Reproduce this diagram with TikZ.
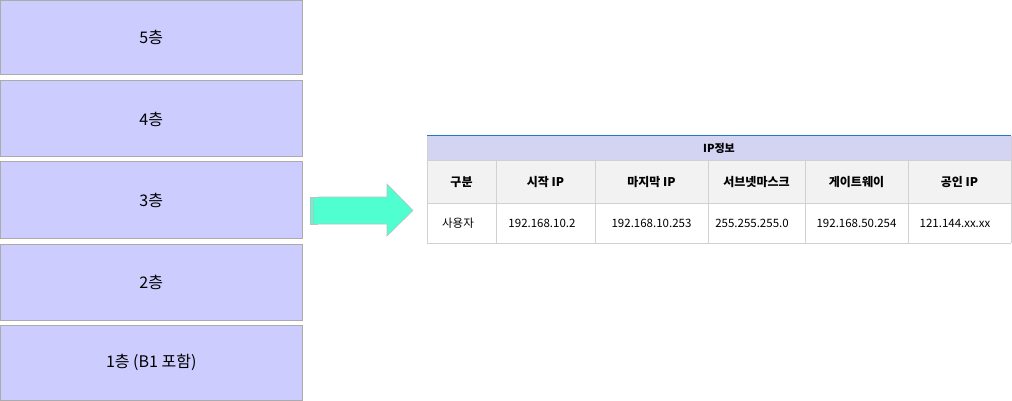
\documentclass[tikz,border=0pt]{standalone}
\usepackage{fontspec}
\setmainfont{Noto Sans CJK KR}
\begin{document}
\begin{tikzpicture}[x=1pt,y=-1pt,
  floorbox/.style={draw=black!33, fill=floorfill, line width=1pt},
  cell/.style={draw=black!18, line width=1pt},
  lbl/.style={font=\fontsize{16}{18}\selectfont},
  th/.style={font=\fontsize{12}{14}\selectfont\bfseries},
  td/.style={font=\fontsize{11.5}{13}\selectfont}]
\definecolor{floorfill}{HTML}{CCCCFF}
\definecolor{arrowfill}{HTML}{4FFFCF}
\definecolor{headfill}{HTML}{D3D3F2}
\definecolor{rowfill}{HTML}{F2F2F2}
\definecolor{topline}{HTML}{1C7CC8}
\useasboundingbox (0,0) rectangle (1012,401);
% floors
\draw[floorbox] (0.5,0.5) rectangle (302,75) node[midway,lbl] (f5) {5층};
\draw[floorbox] (0.5,81) rectangle (302,157) node[midway,lbl] (f4) {4층};
\draw[floorbox] (0.5,162) rectangle (302,238) node[midway,lbl] (f3) {3층};
\draw[floorbox] (0.5,244) rectangle (302,320) node[midway,lbl] (f2) {2층};
\draw[floorbox] (0.5,325) rectangle (302,400.5) node[midway,lbl] (f1) {1층 (B1 포함)};
% arrow
\fill[arrowfill] (310,197) rectangle (388,224);
\draw[black!25, line width=0.6pt] (310,197) -- (310,224) (313,197) -- (313,224) (318,197) -- (318,224);
\draw[black!25, line width=0.6pt] (310,197) -- (318,197) (310,224) -- (318,224);
\draw[draw=black!25, fill=arrowfill, line width=0.6pt] (318,197) -- (387,197) -- (387,184) -- (413,210.5) -- (387,236) -- (387,224) -- (318,224);
% table
\fill[headfill] (427,136) rectangle (1011,161);
\fill[rowfill] (427,161) rectangle (1011,203);
\draw[cell] (427,161) -- (1011,161);
\draw[cell] (427,203) -- (1011,203);
\draw[cell] (427,243) -- (1011,243);
\foreach \x in {427,496,595,708,805,908,1011} {\draw[cell] (\x,161) -- (\x,243);}
\draw[cell] (427,136) -- (427,161) (1011,136) -- (1011,161);
\draw[topline, line width=1.2pt] (427,135.5) -- (1011,135.5);
\node[font=\fontsize{11}{13}\selectfont\bfseries] (title) at (719,148.5) {IP정보};
\node[th] (h1) at (461.5,182) {구분};
\node[th] (h2) at (545.5,182) {시작 IP};
\node[th] (h3) at (651.5,182) {마지막 IP};
\node[th] (h4) at (756.5,182) {서브넷마스크};
\node[th] (h5) at (856.5,182) {게이트웨이};
\node[th] (h6) at (959.5,182) {공인 IP};
\node[td] (d1) at (458,223) {사용자};
\node[td] (d2) at (542,223) {192.168.10.2};
\node[td] (d3) at (651.5,223) {192.168.10.253};
\node[td] (d4) at (752,223) {255.255.255.0};
\node[td] (d5) at (856.5,223) {192.168.50.254};
\node[td] (d6) at (955,223) {121.144.xx.xx};
\end{tikzpicture}
\end{document}
